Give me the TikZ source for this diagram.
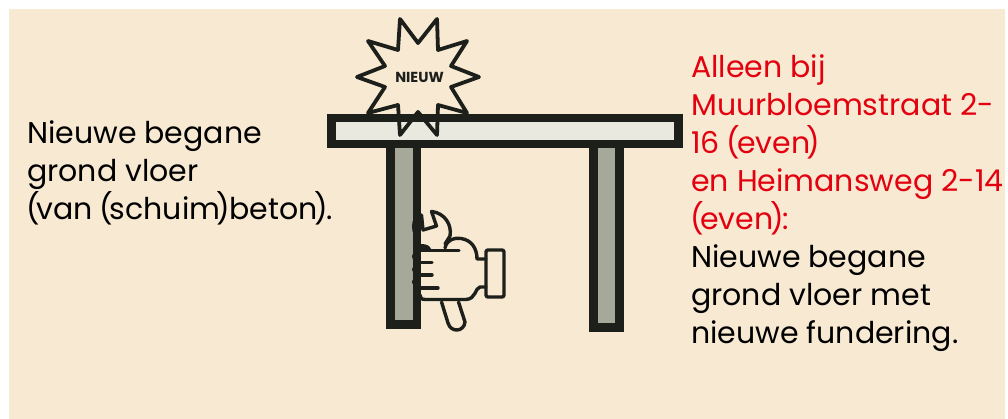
\documentclass[tikz,border=0pt]{standalone}
\usepackage{fontspec}
\setmainfont{Poppins}
\definecolor{bgc}{HTML}{F8E9D3}
\definecolor{darkc}{HTML}{1D1F1B}
\definecolor{topc}{HTML}{E9E9E0}
\definecolor{legc}{HTML}{A6A99A}
\definecolor{redc}{HTML}{E3000F}
\newcommand{\lpar}{\kern-1pt(\kern-3.5pt}
\newcommand{\rpar}{\kern-3.5pt)\kern-1pt}
\tikzset{
 x=1pt,y=-1pt,
 bodytext/.style={anchor=north west,inner sep=0pt,align=left,font=\fontsize{30}{38}\selectfont,text=black},
 ink/.style={draw=darkc,line width=3.4pt,line cap=round,line join=round},
}
\begin{document}
\begin{tikzpicture}
\useasboundingbox (0,0) rectangle (1008,419);
\fill[white] (0,0) rectangle (1008,419);
\fill[bgc] (9,9) rectangle (1005,419);
% legs
\fill[darkc] (386,148) rectangle (421,329);
\fill[legc] (395,148) rectangle (413,320);
\fill[darkc] (589,148) rectangle (624,332);
\fill[legc] (598,148) rectangle (615,323);
% top
\fill[darkc] (327,114) rectangle (683,148);
\fill[topc] (336,122) rectangle (674,140);
% star
\draw[ink,line width=3.8pt] (400,19) -- (418,43) -- (437,19) -- (438,50) -- (467,41) -- (451,66) -- (479,77) -- (451,87) -- (467,113) -- (438,105) -- (437,135) -- (418,112) -- (400,135) -- (398,105) -- (368,113) -- (385,87) -- (357,77) -- (385,66) -- (368,41) -- (398,50) -- cycle;
\node[inner sep=0pt,font=\fontsize{14.5}{14}\selectfont\bfseries,text=darkc] (badge) at (419.5,77) {NIEUW};
% wrench
\draw[ink] (421.5,215) -- (423,230) -- (436.5,226) -- (431.5,211.5) .. controls (445,213) and (452,225) .. (450,236) -- (445,244);
\draw[ink] (441.5,302) -- (448,323) .. controls (451,333) and (464,332) .. (465,322) -- (458.5,302);
% hand
\draw[ink] (445,248) .. controls (447,239) and (455,237.5) .. (461,238.5) .. controls (472,240) and (477,249) .. (477,259) -- (486,259);
\draw[ink] (486,287) -- (480,287) .. controls (475,288) and (476,299) .. (466,299.5) -- (425,299.5) .. controls (421,299.5) and (420,297) .. (420,295);
\draw[ink,rounded corners=2pt] (486,250) rectangle (504,297);
\draw[ink] (420,250.5) -- (459,250.5);
\draw[ink] (420,262.5) -- (432,262.5);
\draw[ink] (420,275) -- (432,275);
\draw[ink] (420,288) -- (438,288);
% knuckles
\foreach \ya/\yb in {213/240,251/262,265/274,277/287}{
 \fill[darkc] (421,\ya) .. controls (409,\ya) and (409,\yb) .. (421,\yb) -- cycle;
}
\fill[darkc] (421,244) .. controls (427,244) and (430,246) .. (431,249) -- (421,249) -- cycle;
% text
\node[bodytext] (lefttext) at (27,120) {Nieuwe begane\\grond vloer\\\lpar van \lpar schuim\rpar beton\rpar.};
\node[bodytext] (righttext) at (691,54.5) {\textcolor{redc}{Alleen bij}\\\textcolor{redc}{Muurbloemstraat 2-}\\\textcolor{redc}{16 \lpar even\rpar}\\\textcolor{redc}{en Heimansweg 2-14}\\\textcolor{redc}{\lpar even\rpar:}\\Nieuwe begane\\grond vloer met\\nieuwe fundering.};
\end{tikzpicture}
\end{document}
